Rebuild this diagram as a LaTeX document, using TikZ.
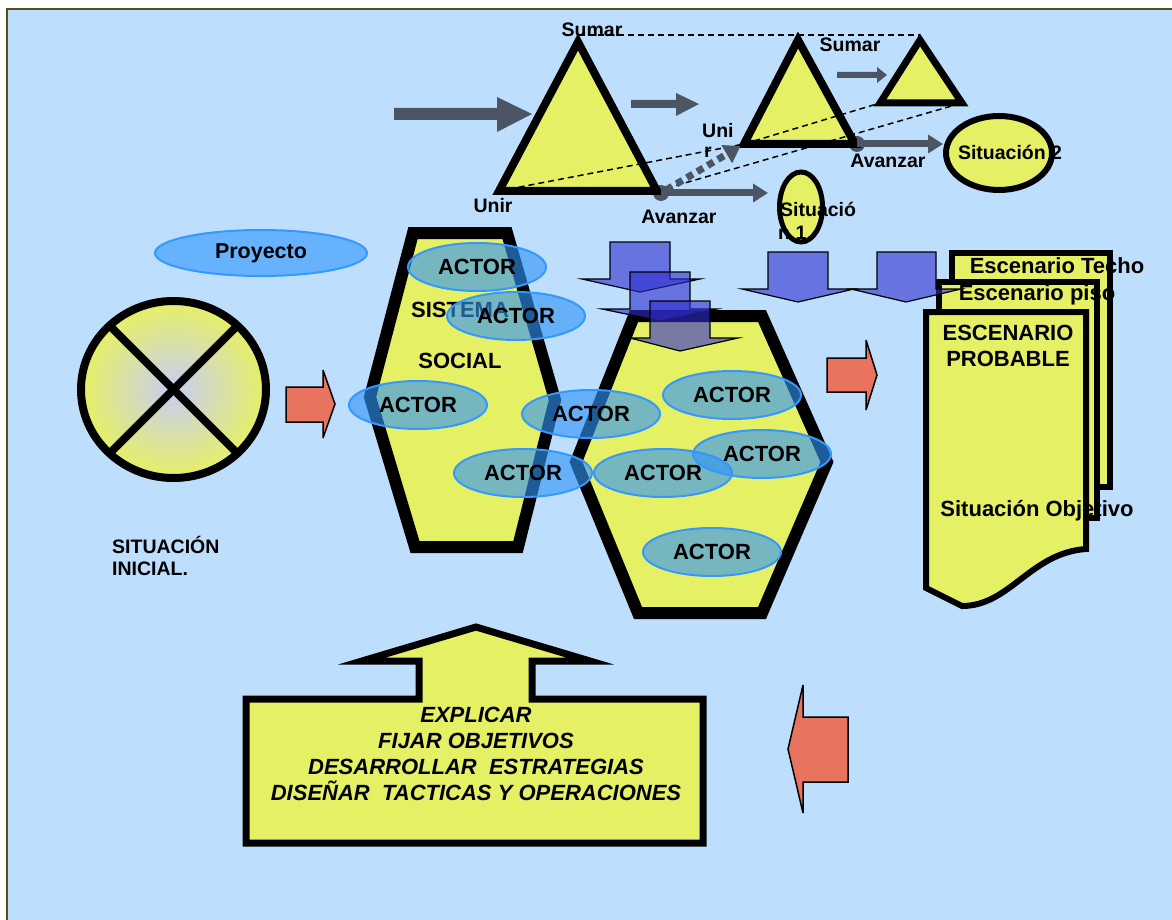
\documentclass[tikz,border=0pt]{standalone}
\usepackage{fontspec}
\setmainfont{Liberation Sans}
\usetikzlibrary{arrows.meta,shapes.geometric}
\definecolor{bgblue}{HTML}{BDDFFD}
\definecolor{yel}{HTML}{E6F064}
\definecolor{slate}{HTML}{4B5563}
\definecolor{redarr}{HTML}{E8735F}
\definecolor{actorfill}{HTML}{3294F7}
\definecolor{actoredge}{HTML}{3399FF}
\definecolor{projfill}{HTML}{66B2FF}
\definecolor{downfill}{HTML}{2F2CCD}
\definecolor{framecol}{HTML}{4F4F22}
\definecolor{lavender}{HTML}{C8CDF5}
\newcommand\myfs[2]{\fontsize{#1}{#2}\selectfont}
\begin{document}
\begin{tikzpicture}[x=1pt,y=-1pt,
  lbl/.style={font=\bfseries\myfs{19.5}{23}, inner sep=0pt},
  big/.style={font=\bfseries\myfs{22}{26}, inner sep=0pt},
  tri/.style={draw=black, line width=8pt, fill=yel, miter limit=20},
  hexa/.style={draw=black, line width=12pt, fill=yel},
  actor/.style={ellipse, draw=actoredge, line width=2pt, fill=actorfill, fill opacity=0.62, draw opacity=1, text opacity=1, minimum width=138pt, minimum height=48pt, inner sep=0pt, font=\bfseries\myfs{22}{26}},
  downarr/.style={draw=black, line width=1.2pt, fill=downfill, fill opacity=0.6, draw opacity=1},
  redar/.style={draw=black, line width=1.5pt, fill=redarr, miter limit=4},
  dashln/.style={draw=black, line width=1.5pt, dash pattern=on 6pt off 4pt},
  grayln/.style={draw=slate, line width=7pt, -{Triangle[length=15pt,width=18pt]}},
  dotarrow/.style={draw=slate, line width=7pt, dash pattern=on 7pt off 5pt, -{Triangle[length=16pt,width=20pt]}},
  dotg/.style={circle, fill=slate, minimum size=16pt, inner sep=0pt},
  sitell/.style={ellipse, draw=black, fill=yel, inner sep=0pt},
  docline/.style={draw=black, line width=6pt},
]
\useasboundingbox (0,0) rectangle (1172,920);
\fill[white] (0,0) rectangle (1172,920);
\fill[bgblue] (7,9) rectangle (1172,920);
\draw[framecol, line width=2pt] (7,920) -- (7,9) -- (1172,9);

% ---------- top gray block arrows ----------
\fill[slate] (394,108) -- (497,108) -- (497,97) -- (532,114) -- (497,132) -- (497,120) -- (394,120) -- cycle;
\fill[slate] (631,100) -- (676,100) -- (676,93) -- (699,104) -- (676,116) -- (676,108) -- (631,108) -- cycle;
\fill[slate] (837,72) -- (877,72) -- (877,67) -- (887,75) -- (877,83) -- (877,78) -- (837,78) -- cycle;

% ---------- dots ----------
\node[dotg] (av1) at (661,193) {};
\node[dotg] (av2) at (857,144) {};

% ---------- triangles ----------
\coordinate (t1a) at (578,42); \coordinate (t1l) at (499,191); \coordinate (t1r) at (657,191);
\coordinate (t2a) at (798,40); \coordinate (t2l) at (744,144); \coordinate (t2r) at (855,144);
\coordinate (t3a) at (920,40); \coordinate (t3l) at (880,103); \coordinate (t3r) at (962,103);
\draw[tri] (t1a) -- (t1l) -- (t1r) -- cycle;
\draw[tri] (t2a) -- (t2l) -- (t2r) -- cycle;
\draw[tri, line width=7pt] (t3a) -- (t3l) -- (t3r) -- cycle;

% dashed guide lines
\coordinate (topl) at (578,35); \coordinate (topr) at (920,35);
\draw[dashln] (topl) -- (topr);
\draw[dashln] (t1l) -- (t2l) -- (t3l);
\draw[dashln] (t1r) -- (t3r);

% ---------- situation ellipses ----------
\node[sitell, line width=5pt, minimum width=43pt, minimum height=70pt] (sit1) at (801,207) {};
\node[sitell, line width=6pt, minimum width=106pt, minimum height=74pt] (sit2) at (999,153) {};

\draw[grayln, shorten >=9pt] (av1.center) -- (av1 -| sit1.west);
\draw[grayln] (av2.center) -- (av2 -| sit2.west);
\draw[dotarrow, shorten >=4pt, shorten <=6pt] (av1.center) -- (t2l);

% labels top
\node[lbl, anchor=base] (sum1) at (592,37) {Sumar};
\node[lbl, anchor=base] (sum2) at (850,52) {Sumar};
\node[lbl, anchor=base] (unir) at (493,212) {Unir};
\node[lbl, anchor=base] (ava1) at (679,223) {Avanzar};
\node[lbl, anchor=base] (ava2) at (888,168) {Avanzar};
\node[lbl, anchor=base west] (uni) at (702,138) {Uni};
\node[lbl, anchor=base west] (unr) at (704,158) {r};
\node[lbl, anchor=base west] (s1a) at (780,217) {Situació};
\node[lbl, anchor=base west] (s1b) at (778,240) {n 1};
\node[lbl, anchor=base] (s2t) at (1010,160) {Situación 2};

% ---------- Proyecto ----------
\node[ellipse, draw=actoredge, line width=2pt, fill=projfill, minimum width=212pt, minimum height=46pt, inner sep=0pt, font=\bfseries\myfs{21.5}{24}] (proy) at (261,253) {Proyecto};

% ---------- initial situation ----------
\node[ellipse, draw=black, line width=8pt, outer sep=0pt, minimum width=185pt, minimum height=177pt, inner color=lavender, outer color=yel] (ini) at (173.5,389.5) {};
\draw[line width=8pt] (ini.135) -- (ini.-45);
\draw[line width=8pt] (ini.45) -- (ini.-135);
\node[lbl, anchor=base west] (sit0a) at (112,553) {SITUACIÓN};
\node[lbl, anchor=base west] (sit0b) at (112,575) {INICIAL.};

% red arrow 1
\draw[redar] (286,387) -- (323,387) -- (323,370) -- (335,404) -- (323,438) -- (323,422) -- (286,422) -- cycle;

% ---------- hexagons ----------
\draw[hexa] (413,233) -- (507,233) -- (555,400) -- (518,547) -- (415,547) -- (370,397) -- cycle;
\draw[hexa] (634,316) -- (762,316) -- (827,462) -- (762,613) -- (638,613) -- (576,462) -- cycle;
\node[big, anchor=base] (sis) at (460,317) {SISTEMA};
\node[big, anchor=base] (soc) at (460,368) {SOCIAL};

% ---------- actors ----------
\node[actor] (a1) at (477,267) {ACTOR};
\node[actor] (a2) at (516,316) {ACTOR};
\node[actor] (a3) at (418,405) {ACTOR};
\node[actor] (a4) at (591,414) {ACTOR};
\node[actor] (a5) at (523,473) {ACTOR};
\node[actor] (a6) at (732,395) {ACTOR};
\node[actor] (a7) at (663,473) {ACTOR};
\node[actor] (a8) at (762,454) {ACTOR};
\node[actor] (a9) at (712,552) {ACTOR};

% ---------- scenario documents ----------
\fill[yel] (952,253) rectangle (1110,487);
\node[big, anchor=base] (techo) at (1057,273) {Escenario Techo};
\draw[docline] (952,253) rectangle (1110,487);
\fill[yel] (939,282) rectangle (1097,518);
\node[big, anchor=base] (piso) at (1037,300) {Escenario piso};
\draw[docline] (939,282) rectangle (1097,518);
\fill[yel] (926,312) -- (1086,312) -- (1086,549) .. controls (1030,553) and (1010,606) .. (962,606) -- (926,588) -- cycle;
\node[big, anchor=north, align=center, font=\bfseries\myfs{22}{25.5}] (prob) at (1008,325) {ESCENARIO\\PROBABLE};
\node[big, anchor=base] (obj) at (1037,516) {Situación Objetivo};
\draw[docline] (926,312) -- (1086,312) -- (1086,549) .. controls (1030,553) and (1010,606) .. (962,606) -- (926,588) -- cycle;

% ---------- blue down arrows ----------
\draw[downarr] (610,242) -- (670,242) -- (670,279) -- (700,279) -- (640,292) -- (582,279) -- (610,279) -- cycle;
\draw[downarr] (630,272) -- (690,272) -- (690,309) -- (717,309) -- (660,321) -- (602,309) -- (630,309) -- cycle;
\draw[downarr] (650,301) -- (710,301) -- (710,338) -- (738,338) -- (680,351) -- (630,338) -- (650,338) -- cycle;
\draw[downarr] (768,252) -- (828,252) -- (828,289) -- (854,289) -- (798,302) -- (742,289) -- (768,289) -- cycle;
\draw[downarr] (877,252) -- (936,252) -- (936,289) -- (961,289) -- (906,302) -- (851,289) -- (877,289) -- cycle;

% red arrow 2
\draw[redar] (827,358) -- (866,358) -- (866,340) -- (877,375) -- (866,410) -- (866,392) -- (827,392) -- cycle;

% ---------- bottom box with up arrow ----------
\draw[draw=black, line width=7pt, fill=yel, miter limit=20] (246,699) -- (419,699) -- (419,661) -- (362,661) -- (476,627) -- (590,661) -- (532,661) -- (532,699) -- (703,699) -- (703,843) -- (246,843) -- cycle;
\node[anchor=north, align=center, inner sep=0pt, font=\bfseries\itshape\myfs{22}{26}] (tasks) at (476,707) {EXPLICAR\\FIJAR OBJETIVOS\\DESARROLLAR\ \ ESTRATEGIAS\\DISEÑAR\ \ TACTICAS Y OPERACIONES};

% red arrow 3
\draw[redar] (848,717) -- (803,717) -- (803,685) -- (788,749) -- (803,813) -- (803,782) -- (848,782) -- cycle;
\end{tikzpicture}
\end{document}
